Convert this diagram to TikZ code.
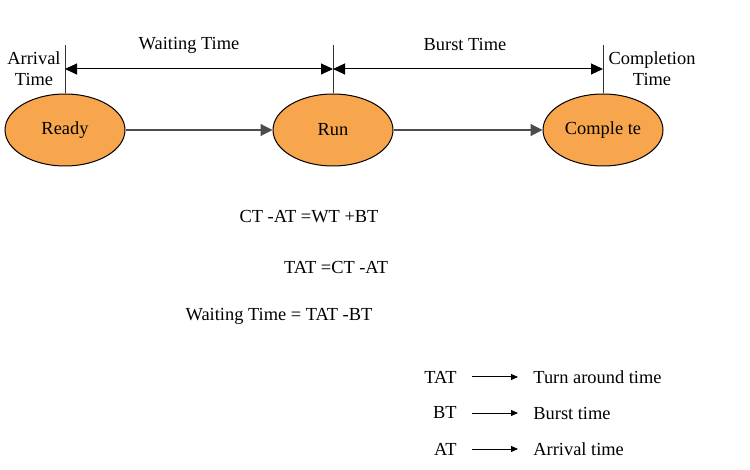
\documentclass[tikz,border=0pt]{standalone}
\usepackage{fontspec}
\setmainfont{Liberation Serif}
\usetikzlibrary{arrows.meta,shapes.geometric}

\begin{document}
\begin{tikzpicture}[x=0.5pt,y=-0.5pt,
    font=\fontsize{9.2}{10.5}\selectfont,
    state/.style={ellipse,draw=black,line width=0.5pt,fill=stateorange,minimum width=60pt,minimum height=36pt,inner sep=0pt},
    flow/.style={line width=0.6pt,draw=black!70,-{Triangle[length=6pt,width=6pt]}},
    span/.style={line width=0.5pt,{Triangle[length=6pt,width=5.5pt]}-{Triangle[length=6pt,width=5.5pt]}},
    tick/.style={line width=0.5pt,draw=black!80},
    key/.style={line width=0.5pt,-{Triangle[length=3.5pt,width=3pt]},shorten <=7.5pt,shorten >=7.5pt},
    twoline/.style={align=center,inner sep=0pt}]
\definecolor{stateorange}{RGB}{247,166,77}
\useasboundingbox (0,0) rectangle (750,470);
% states
\node[state] (ready) at (65,130) {Ready};
\node[state] (run) at (333,130) {Run};
\node[state] (complete) at (603,130) {Comple te};
\draw[flow] (ready) -- (run);
\draw[flow] (run) -- (complete);
% time marks
\coordinate (arrivaltop) at (65,45);
\coordinate (runtop) at (333,45);
\coordinate (completetop) at (603,45);
\draw[tick] (ready.north) -- (arrivaltop);
\draw[tick] (run.north) -- (runtop);
\draw[tick] (complete.north) -- (completetop);
\coordinate (arrivalmark) at (65,69);
\coordinate (runmark) at (333,69);
\coordinate (completemark) at (603,69);
\draw[span] (arrivalmark) -- (runmark);
\draw[span] (runmark) -- (completemark);
\node[inner sep=0pt] (waitlabel) at (189,45) {Waiting Time};
\node[inner sep=0pt] (burstlabel) at (465,45) {Burst Time};
\node[twoline] (arrivallabel) at (34,69) {Arrival\\Time};
\node[twoline] (completionlabel) at (652,69) {Completion\\Time};
% formulas
\node (eqone) at (309,217) {CT -AT =WT +BT};
\node (eqtwo) at (336,267) {TAT =CT -AT};
\node (eqthree) at (279,316) {Waiting Time = TAT -BT};
% legend
\node[anchor=east,inner sep=0pt] (tat) at (457,377) {TAT};
\node[anchor=east,inner sep=0pt] (bt) at (457,413) {BT};
\node[anchor=east,inner sep=0pt] (at) at (457,449) {AT};
\node[anchor=west,inner sep=0pt] (tatmeaning) at (533,377) {Turn around time};
\node[anchor=west,inner sep=0pt] (btmeaning) at (533,413) {Burst time};
\node[anchor=west,inner sep=0pt] (atmeaning) at (533,449) {Arrival time};
\draw[key] (tat) -- (tatmeaning);
\draw[key] (bt) -- (btmeaning);
\draw[key] (at) -- (atmeaning);
\end{tikzpicture}
\end{document}
